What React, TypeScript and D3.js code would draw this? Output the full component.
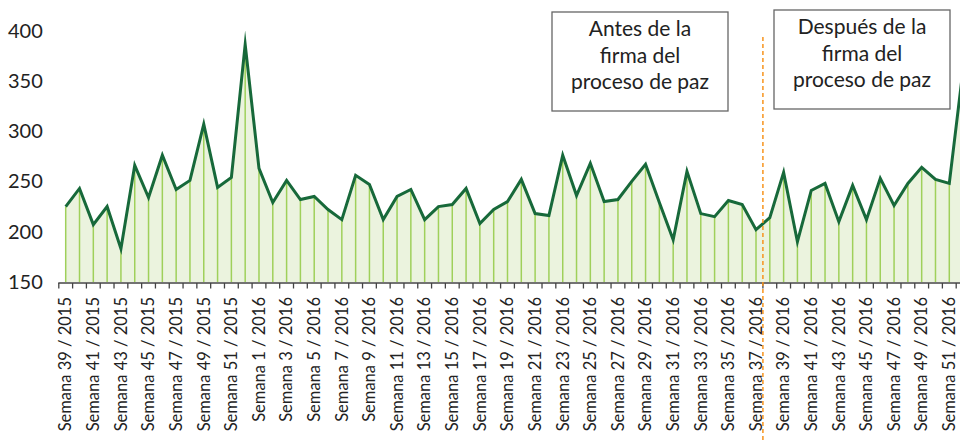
import React from "react";
import * as d3 from "d3";

const weeks2015 = [39, 40, 41, 42, 43, 44, 45, 46, 47, 48, 49, 50, 51, 52];
const weeks2016 = [1, 2, 3, 4, 5, 6, 7, 8, 9, 10, 11, 12, 13, 14, 15, 16, 17, 18, 19, 20, 21, 22, 23, 24, 25, 26, 27, 28, 29, 30, 31, 32, 33, 34, 35, 36, 37, 38, 39, 40, 41, 42, 43, 44, 45, 46, 47, 48, 49, 50, 51, 52];
const categories = [
  ...weeks2015.map((w) => `Semana ${w} / 2015`),
  ...weeks2016.map((w) => `Semana ${w} / 2016`),
];
const values = [
  225, 243, 207, 225, 183, 266, 234, 276, 242, 251, 307, 244, 254, 386,
  263, 229, 251, 232, 235, 222, 212, 256, 247, 212, 235, 242, 212, 225, 227, 243,
  208, 222, 230, 252, 218, 216, 276, 236, 268, 230, 232, 250, 267, 229, 192, 260,
  218, 215, 231, 227, 202, 214, 259, 190, 241, 248, 210, 246, 212, 253, 226, 248,
  264, 252, 248, 362,
];
const yTicks = [150, 200, 250, 300, 350, 400];
const dividerCategory = "Semana 37 / 2016";
const boxBefore = ["Antes de la", "firma del", "proceso de paz"];
const boxAfter = ["Después de la", "firma del", "proceso de paz"];

const FONT = "Lato, 'Open Sans', sans-serif";

export default function App() {
  const W = 960;
  const H = 440;
  const x = d3.scaleBand<string>().domain(categories).range([58.8, 970]).padding(0);
  const y = d3.scaleLinear().domain([150, 400]).range([282, 30.5]);
  const cx = (c: string) => (x(c) as number) + x.bandwidth() / 2;
  const data = categories.map((c, i) => ({ c, v: values[i] }));
  const line = d3.line<{ c: string; v: number }>().x((d) => cx(d.c)).y((d) => y(d.v));
  const area = d3
    .area<{ c: string; v: number }>()
    .x((d) => cx(d.c))
    .y0(y(150))
    .y1((d) => y(d.v));
  const divX = (x(dividerCategory) as number) + x.bandwidth();
  const boundaries = categories.map((c) => x(c) as number).concat([(x(categories[categories.length - 1]) as number) + x.bandwidth()]);

  const box = (lines: string[], x0: number, y0: number, w: number, h: number) => (
    <g>
      <rect x={x0} y={y0} width={w} height={h} fill="#fff" stroke="#666" strokeWidth={1.3} />
      {lines.map((t, i) => (
        <text key={i} x={x0 + w / 2} y={y0 + 24 + i * 26.5} textAnchor="middle" fontFamily={FONT} fontSize={21} fill="#222">
          {t}
        </text>
      ))}
    </g>
  );

  return (
    <svg width={W} height={H} style={{ position: "absolute", left: 0, top: 0, background: "#fff" }}>
      <path d={area(data) as string} fill="#ebf3de" />
      {data.map((d, i) => (
        <line key={i} x1={cx(d.c)} x2={cx(d.c)} y1={y(d.v)} y2={y(150)} stroke="#9fd05a" strokeWidth={1.5} />
      ))}
      <path d={line(data) as string} fill="none" stroke="#17693a" strokeWidth={3} strokeLinejoin="miter" strokeMiterlimit={10} />
      <line x1={58.3} x2={W} y1={283} y2={283} stroke="#444" strokeWidth={1.5} />
      {boundaries.map((b, i) => (
        <line key={i} x1={b} x2={b} y1={283} y2={288.5} stroke="#444" strokeWidth={1.3} />
      ))}
      {yTicks.map((t) => (
        <text key={t} x={8} y={y(t)} dy="0.35em" fontFamily={FONT} fontSize={20} fill="#222">
          {t}
        </text>
      ))}
      {categories.map((c, i) =>
        i % 2 === 0 ? (
          <text
            key={c}
            transform={`translate(${cx(c)},297) rotate(-90)`}
            dy="0.35em"
            textAnchor="end"
            fontFamily={FONT}
            fontSize={16.5}
            fill="#222"
          >
            {c}
          </text>
        ) : null
      )}
      <line x1={divX} x2={divX} y1={37} y2={H} stroke="#f7941d" strokeWidth={1.5} strokeDasharray="4,3" />
      {box(boxBefore, 552, 12, 176, 99)}
      {box(boxAfter, 774, 10, 176, 99)}
    </svg>
  );
}
